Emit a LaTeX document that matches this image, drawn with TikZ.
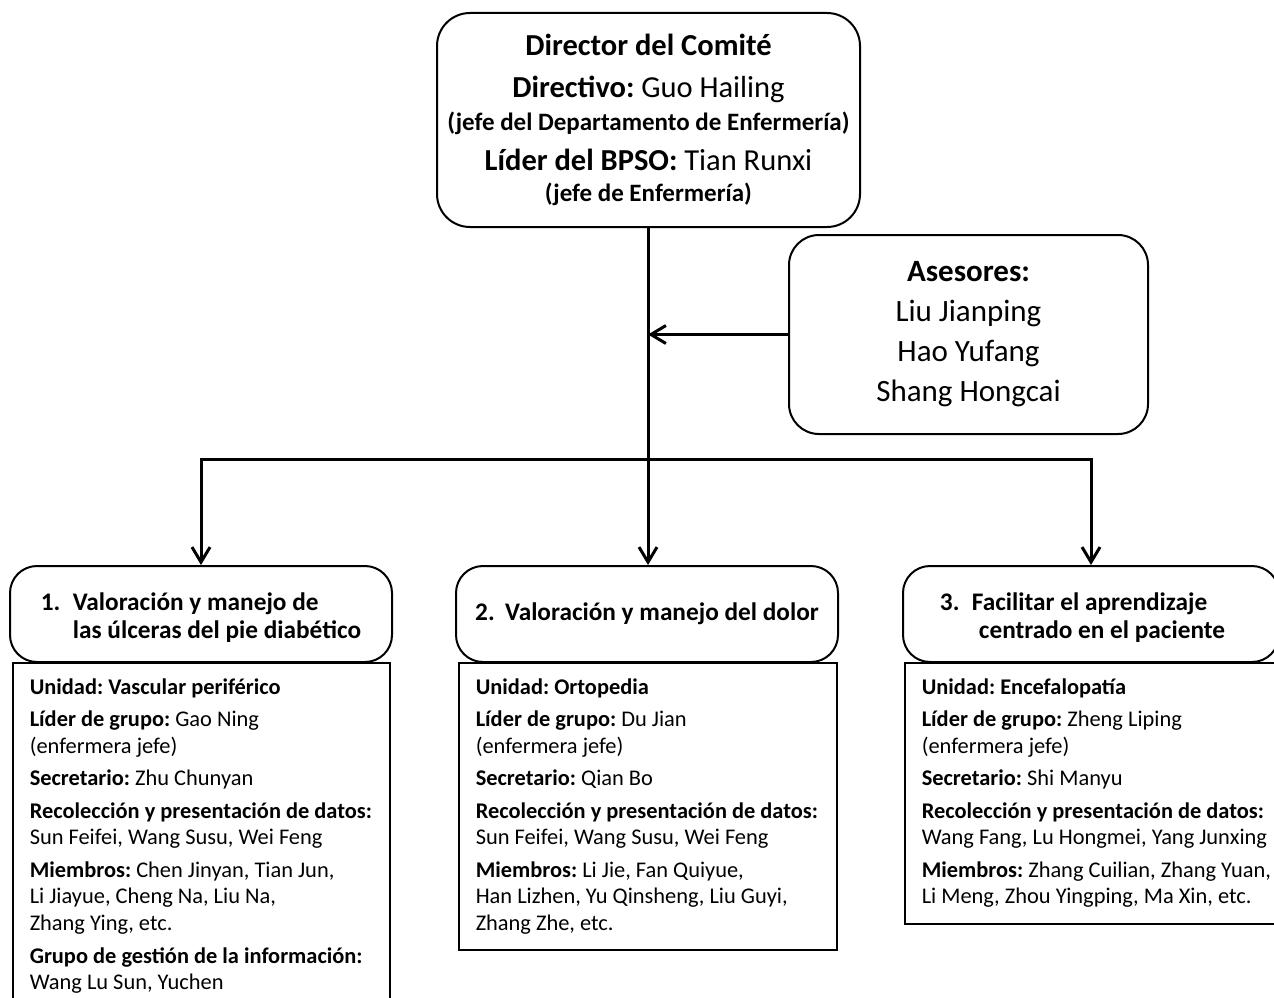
\documentclass[tikz,border=0pt]{standalone}
\usepackage{fontspec}
\setmainfont{Carlito}
\usetikzlibrary{arrows.meta}
\frenchspacing
\newcommand{\bodytext}[3]{\begin{minipage}[t][#2][t]{#1}\frenchspacing\raggedright\leftskip=17pt\fontsize{22.4}{26.5}\selectfont\rule{0pt}{32pt}#3\end{minipage}}
\tikzset{
  rbox/.style={draw, line width=2pt, inner sep=0pt, align=center},
  topbox/.style={rbox, rounded corners=33pt, minimum width=423pt, minimum height=214pt, font=\fontsize{30.5}{30}\selectfont},
  asebox/.style={rbox, rounded corners=30pt, minimum width=359pt, minimum height=199pt, font=\fontsize{31}{40}\selectfont},
  headbox/.style={rbox, rounded corners=27pt, minimum height=96pt, font=\fontsize{25.3}{28}\selectfont\bfseries},
  bodybox/.style={draw, line width=1.5pt, inner sep=0pt, anchor=north west},
  conn/.style={line width=3pt},
  arr/.style={conn, -{Straight Barb[length=15pt,width=18pt]}}
}
\begin{document}
\begin{tikzpicture}[x=1pt,y=-1pt]
\useasboundingbox (0,0) rectangle (1274,998);
\clip (0,0) rectangle (1274,998);
\fill[white] (0,0) rectangle (1274,998);

\node[topbox] (dir) at (648.5,120) {%
{\bfseries Director del Comité}\\[12pt]
{\bfseries Directivo:} Guo Hailing\\[3pt]
{\fontsize{25}{25}\selectfont\bfseries (jefe del Departamento de Enfermería)}\\[10pt]
{\bfseries Líder del BPSO:} Tian Runxi\\[1pt]
{\fontsize{25}{25}\selectfont\bfseries (jefe de Enfermería)}};

\node[asebox] (ase) at (968.5,334.5) {%
{\bfseries Asesores:}\\
Liu Jianping\\
Hao Yufang\\
Shang Hongcai};

\node[headbox, minimum width=382pt] (h1) at (201,614) {\makebox[32pt][l]{\rule{0pt}{30pt}1.}\begin{tabular}[t]{@{}l@{}}Valoración y manejo de\\las úlceras del pie diabético\end{tabular}};
\node[headbox, minimum width=382pt] (h2) at (647,614) {\makebox[30pt][l]{2.}Valoración y manejo del dolor};
\node[headbox, minimum width=376pt] (h3) at (1091,614) {\makebox[32pt][l]{\rule{0pt}{30pt}3.}\begin{tabular}[t]{@{}l@{}}Facilitar el aprendizaje\\\hspace*{7pt}centrado en el paciente\end{tabular}\hspace*{17pt}};

\node[bodybox] (b1) at (12,662) {\bodytext{377pt}{360pt}{%
\textbf{Unidad: Vascular periférico}\\[5pt]
\textbf{Líder de grupo:} Gao Ning\\[1pt]
(enfermera jefe)\\[5pt]
\textbf{Secretario:} Zhu Chunyan\\[6.5pt]
\textbf{Recolección y presentación de datos:}\\
Sun Feifei, Wang Susu, Wei Feng\\[6pt]
\textbf{Miembros:} Chen Jinyan, Tian Jun,\\
Li Jiayue, Cheng Na, Liu Na,\\
Zhang Ying, etc.\\[6.5pt]
\textbf{Grupo de gestión de la información:}\\
Wang Lu Sun, Yuchen}};

\node[bodybox] (b2) at (458,662) {\bodytext{378pt}{287pt}{%
\textbf{Unidad: Ortopedia}\\[5pt]
\textbf{Líder de grupo:} Du Jian\\[1pt]
(enfermera jefe)\\[5pt]
\textbf{Secretario:} Qian Bo\\[6.5pt]
\textbf{Recolección y presentación de datos:}\\
Sun Feifei, Wang Susu, Wei Feng\\[6pt]
\textbf{Miembros:} Li Jie, Fan Quiyue,\\
Han Lizhen, Yu Qinsheng, Liu Guyi,\\
Zhang Zhe, etc.}};

\node[bodybox] (b3) at (904,662) {\bodytext{390pt}{261pt}{%
\textbf{Unidad: Encefalopatía}\\[5pt]
\textbf{Líder de grupo:} Zheng Liping\\[1pt]
(enfermera jefe)\\[5pt]
\textbf{Secretario:} Shi Manyu\\[6.5pt]
\textbf{Recolección y presentación de datos:}\\
Wang Fang, Lu Hongmei, Yang Junxing\\[6pt]
\textbf{Miembros:} Zhang Cuilian, Zhang Yuan,\\
Li Meng, Zhou Yingping, Ma Xin, etc.}};

\coordinate (jc) at (648,459);
\draw[arr] (dir.south -| jc) -- (jc |- h2.north);
\draw[arr] (ase.west) -- (ase.west -| jc);
\draw[arr] (jc) -| (h1.north);
\draw[arr] (jc) -| (h3.north);
\end{tikzpicture}
\end{document}
